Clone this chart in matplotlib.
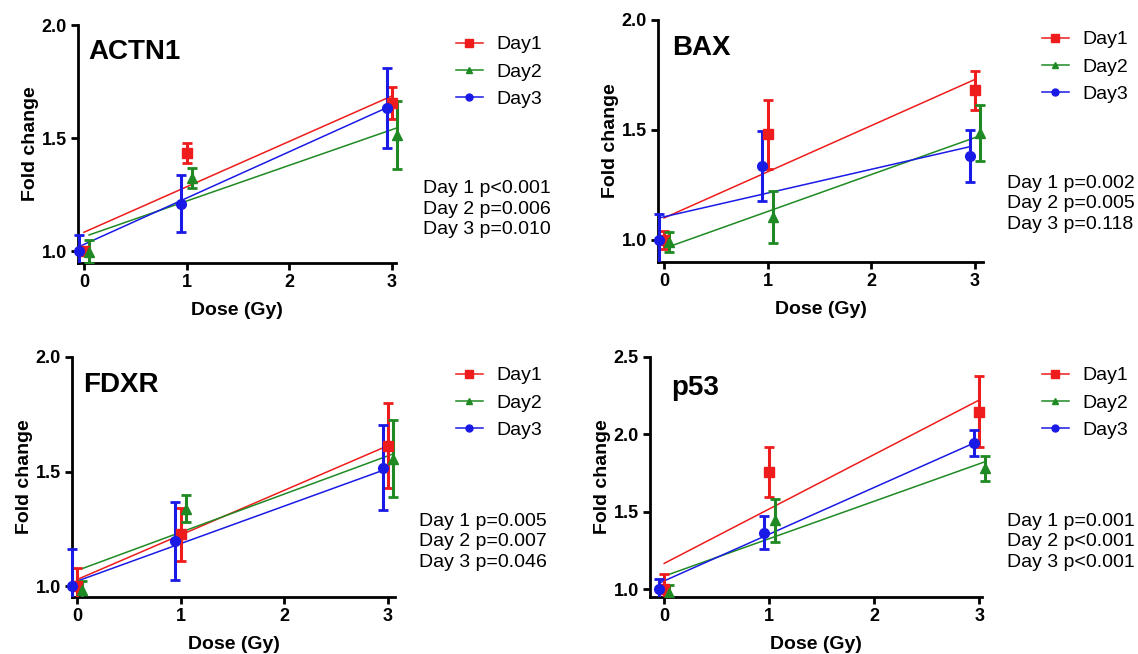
import matplotlib.pyplot as plt
from matplotlib.lines import Line2D
from matplotlib.transforms import Bbox, TransformedBbox

plt.rcParams['font.family'] = ['Liberation Sans', 'DejaVu Sans']

# dose levels and x offsets used to separate the days
doses = [0, 1, 3]
days = ['Day1', 'Day2', 'Day3']
offsets = [0.0, 0.05, -0.05]
colors = ['#ee1c1c', '#1f8a23', '#1a1ae6']
markers = ['s', '^', 'o']

genes = ['ACTN1', 'BAX', 'FDXR', 'p53']

# means per day (Day1, Day2, Day3) at doses 0, 1, 3
actn1_mean = [[1.00, 1.433, 1.655], [0.997, 1.322, 1.515], [1.00, 1.209, 1.633]]
actn1_err = [[0.015, 0.045, 0.07], [0.05, 0.045, 0.15], [0.07, 0.127, 0.175]]
bax_mean = [[1.00, 1.48, 1.68], [0.99, 1.105, 1.488], [1.00, 1.336, 1.382]]
bax_err = [[0.04, 0.155, 0.09], [0.045, 0.12, 0.127], [0.12, 0.16, 0.12]]
fdxr_mean = [[1.00, 1.226, 1.613], [0.984, 1.338, 1.556], [1.00, 1.198, 1.517]]
fdxr_err = [[0.08, 0.115, 0.185], [0.04, 0.06, 0.167], [0.16, 0.17, 0.185]]
p53_mean = [[1.00, 1.757, 2.148], [0.975, 1.446, 1.78], [1.00, 1.365, 1.946]]
p53_err = [[0.10, 0.163, 0.23], [0.05, 0.14, 0.078], [0.064, 0.106, 0.083]]

# linear fits per day: (intercept at dose 0, slope)
actn1_fit = [(1.083, 0.201), (1.071, 0.158), (1.019, 0.205)]
bax_fit = [(1.10, 0.21), (0.97, 0.168), (1.10, 0.108)]
fdxr_fit = [(1.028, 0.195), (1.076, 0.167), (1.013, 0.164)]
p53_fit = [(1.167, 0.352), (1.097, 0.242), (1.039, 0.302)]

pvals = [
    ['Day 1 p<0.001', 'Day 2 p=0.006', 'Day 3 p=0.010'],
    ['Day 1 p=0.002', 'Day 2 p=0.005', 'Day 3 p=0.118'],
    ['Day 1 p=0.005', 'Day 2 p=0.007', 'Day 3 p=0.046'],
    ['Day 1 p=0.001', 'Day 2 p<0.001', 'Day 3 p<0.001'],
]

means = [actn1_mean, bax_mean, fdxr_mean, p53_mean]
errs = [actn1_err, bax_err, fdxr_err, p53_err]
fits = [actn1_fit, bax_fit, fdxr_fit, p53_fit]

W, H = 1138, 654
# axes boxes in pixels: left, top, right, bottom
boxes = [(78, 25, 396, 263), (658, 20, 983, 262), (72, 357, 395, 597), (650, 357, 982, 597)]
xlims = [(-0.058, 3.04), (-0.058, 3.077), (-0.048, 3.067), (-0.135, 3.024)]
ylims = [(0.947, 2.0), (0.9, 2.0), (0.952, 2.0), (0.95, 2.5)]
yticks = [[1.0, 1.5, 2.0], [1.0, 1.5, 2.0], [1.0, 1.5, 2.0], [1.0, 1.5, 2.0, 2.5]]
title_pos = [(88, 59), (672, 55), (83, 392), (671, 395)]
legend_pos = [(446, 26), (1032, 21), (446, 357), (1032, 357)]
ptext_pos = [(423, 209), (1007, 204), (419, 542), (1007, 542)]

fig = plt.figure(figsize=(W / 100, H / 100), dpi=100)

for g in range(4):
    l, t, r, b = boxes[g]
    ax = fig.add_axes([l / W, 1 - b / H, (r - l) / W, (b - t) / H])
    # clip only at the bottom, let markers hang over the axis ends
    clip = TransformedBbox(Bbox([[-0.06, 0], [1.06, 1.1]]), ax.transAxes)
    for d in range(3):
        xs = [x + offsets[d] for x in doses]
        a, s = fits[g][d]
        ln, = ax.plot([doses[0] + offsets[d], doses[-1] + offsets[d]],
                      [a + s * doses[0], a + s * doses[-1]], color=colors[d], lw=1.1, zorder=2)
        ln.set_clip_box(clip)
        eb = ax.errorbar(xs, means[g][d], yerr=errs[g][d], fmt=markers[d], color=colors[d],
                         ms=7 if d != 1 else 6.5, elinewidth=2.2, capsize=3.5, capthick=2, zorder=3)
        eb.lines[0].set_clip_box(clip)
        for art in list(eb.lines[1]) + list(eb.lines[2]):
            art.set_clip_box(clip)
    ax.set_xlim(*xlims[g])
    ax.set_ylim(*ylims[g])
    ax.set_xticks([0, 1, 2, 3])
    ax.set_yticks(yticks[g])
    ax.set_yticklabels([f'{v:.1f}' for v in yticks[g]])
    ax.spines['top'].set_visible(False)
    ax.spines['right'].set_visible(False)
    ax.spines['left'].set_linewidth(2)
    ax.spines['bottom'].set_linewidth(2)
    ax.tick_params(width=2, length=5, labelsize=13, pad=3)
    for lab in ax.get_xticklabels() + ax.get_yticklabels():
        lab.set_fontweight('bold')
    ax.set_xlabel('Dose (Gy)', fontsize=14, fontweight='bold', labelpad=8)
    ax.set_ylabel('Fold change', fontsize=14, fontweight='bold', labelpad=2)

    tx, ty = title_pos[g]
    fig.text(tx / W, 1 - ty / H, genes[g], fontsize=20, fontweight='bold',
             va='baseline', ha='left')

    handles = [Line2D([], [], color=colors[d], marker=markers[d], lw=1.1,
                      ms=6 if d == 0 else 5) for d in range(3)]
    lx, ly = legend_pos[g]
    fig.legend(handles, days, loc='upper left', bbox_to_anchor=(lx / W, 1 - ly / H),
               frameon=False, fontsize=14, handlelength=1.4, handletextpad=0.7,
               labelspacing=0.5, borderpad=0)

    px, py = ptext_pos[g]
    fig.text(px / W, 1 - py / H, '\n'.join(pvals[g]), fontsize=14, va='center', ha='left',
             linespacing=1.3)

fig.savefig('out.png', dpi=100)
